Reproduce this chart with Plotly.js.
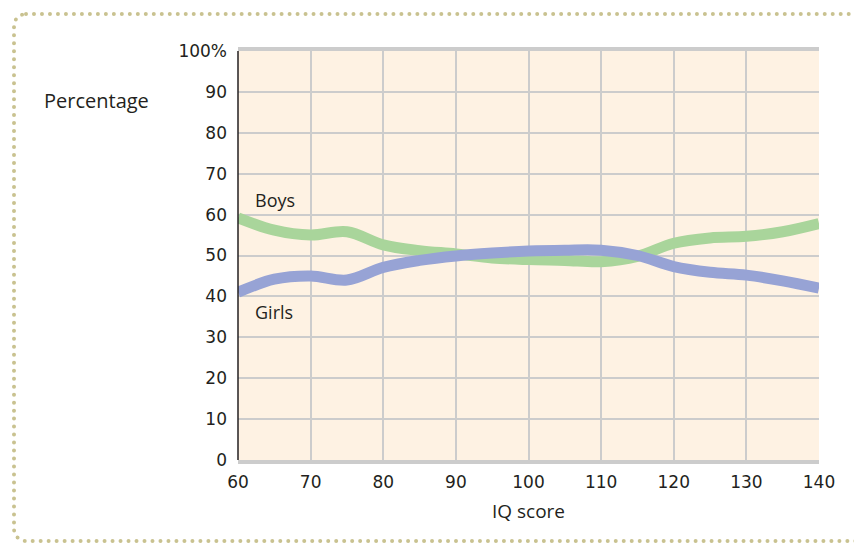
<!DOCTYPE html>
<html>
<head>
<meta charset="utf-8">
<script src="https://cdn.plot.ly/plotly-3.0.1.min.js"></script>
<style>
html,body{margin:0;padding:0;width:854px;height:544px;overflow:hidden;background:#fff;}
#frame{position:absolute;left:12px;top:12px;width:900px;height:531px;border:4px dotted #c9c290;border-right:none;border-radius:14px 0 0 14px;box-sizing:border-box;}
#chart{position:absolute;left:0;top:0;width:854px;height:544px;}
</style>
</head>
<body>
<div id="frame"></div>
<div id="chart"></div>
<script>
const iqScores = [60, 65, 70, 75, 80, 85, 90, 95, 100, 105, 110, 115, 120, 125, 130, 135, 140];
const boys =     [59.2, 56.2, 55.0, 55.8, 52.6, 51.2, 50.4, 49.4, 49.0, 48.8, 48.5, 49.8, 53.0, 54.3, 54.7, 55.8, 57.8];
const girls =    [41.0, 44.2, 45.0, 44.0, 47.1, 48.8, 49.9, 50.6, 51.1, 51.3, 51.3, 50.0, 47.3, 45.9, 45.2, 43.8, 42.0];
const yTickVals = [0, 10, 20, 30, 40, 50, 60, 70, 80, 90, 100];
const yTickText = ["0", "10", "20", "30", "40", "50", "60", "70", "80", "90", "100%"];
const xTickVals = [60, 70, 80, 90, 100, 110, 120, 130, 140];

const font = "'Open Sans', 'DejaVu Sans', sans-serif";
const tickFont = {family: "'DejaVu Sans', sans-serif", size: 17, color: "#231f20"};
const traces = [
  {x: iqScores, y: boys, name: "Boys", mode: "lines", line: {color: "#a9d59b", width: 11, shape: "spline", smoothing: 1}},
  {x: iqScores, y: girls, name: "Girls", mode: "lines", line: {color: "#97a3d5", width: 11, shape: "spline", smoothing: 1}}
];
const layout = {
  width: 854, height: 544,
  margin: {l: 238, r: 35, t: 51, b: 84},
  paper_bgcolor: "rgba(0,0,0,0)",
  plot_bgcolor: "#fef2e3",
  showlegend: false,
  font: {family: font, size: 16, color: "#231f20"},
  xaxis: {
    range: [60, 140], tickvals: xTickVals, ticks: "", showgrid: true,
    gridcolor: "#cccccc", gridwidth: 2, zeroline: false,
    showline: true, linecolor: "#cccccc", linewidth: 4, mirror: true,
    tickfont: tickFont, ticklabelstandoff: 4,
    title: {text: "IQ score", font: {family: font, size: 19, color: "#231f20"}, standoff: 14}
  },
  yaxis: {
    range: [0, 100], tickvals: yTickVals, ticktext: yTickText, ticks: "",
    showgrid: true, gridcolor: "#cccccc", gridwidth: 2, zeroline: false,
    showline: false, tickfont: tickFont, ticklabelstandoff: 10
  },
  shapes: [
    {type: "line", xref: "paper", yref: "paper", x0: 0, x1: 0, y0: 0, y1: 1, line: {color: "#231f20", width: 1.5}}
  ],
  annotations: [
    {xref: "paper", yref: "paper", x: -0.150, y: 0.878, yanchor: "middle", text: "Percentage", showarrow: false, xanchor: "right", font: {family: font, size: 20, color: "#231f20"}},
    {xref: "x", yref: "y", x: 62, y: 63.6, yanchor: "middle", text: "Boys", showarrow: false, xanchor: "left", font: {family: font, size: 18, color: "#231f20"}},
    {xref: "x", yref: "y", x: 62, y: 36.3, yanchor: "middle", text: "Girls", showarrow: false, xanchor: "left", font: {family: font, size: 18, color: "#231f20"}}
  ]
};
Plotly.newPlot("chart", traces, layout, {staticPlot: true});
</script>
</body>
</html>
